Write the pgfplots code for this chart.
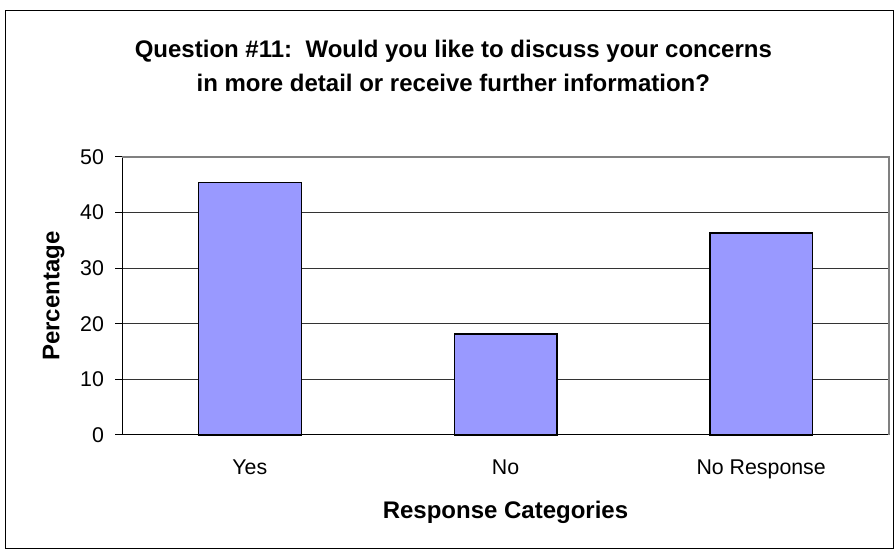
\documentclass[border=0pt]{standalone}
\usepackage{fontspec}
\setmainfont{Liberation Sans}
\usepackage{pgfplots}
\pgfplotsset{compat=1.18}
\definecolor{barfill}{RGB}{153,153,255}
\begin{document}
\begin{tikzpicture}[x=1pt,y=1pt]
\path (0,0) rectangle (672,414);
\draw[black, line width=0.75pt] (3.75,2.25) rectangle (669.75,405.75);
\node[align=center, font=\bfseries\fontsize{18}{25.5}\selectfont] at (340,364.5) {Question \#11:\ \ Would you like to discuss your concerns\\in more detail or receive further information?};
\begin{axis}[
  at={(91.5pt,87.75pt)}, anchor=south west,
  scale only axis, width=575.25pt, height=208.5pt,
  ymin=0, ymax=50, ytick={0,10,...,50},
  xmin=-0.5, xmax=2.5,
  xtick={0,1,2}, xticklabels={Yes,No,No Response},
  x tick style={draw=none},
  extra x ticks={-0.5,0.5,1.5,2.5}, extra x tick labels={},
  extra x tick style={tick style={draw=black!75, line width=0.75pt}, major tick length=5pt},
  axis x line*=bottom, axis y line*=left,
  axis line style={black, line width=0.75pt, -},
  tick align=outside, major tick length=5pt,
  ytick style={black, line width=0.75pt},
  ymajorgrids, grid style={black!80, line width=0.75pt},
  /pgf/number format/assume math mode=true,
  tick label style={font=\fontsize{16}{19}\selectfont},
  xticklabel style={yshift=-10pt},
  yticklabel style={xshift=-5pt},
  xlabel={Response Categories}, ylabel={Percentage},
  label style={font=\bfseries\fontsize{18}{21}\selectfont},
  xlabel style={at={(axis description cs:0.5,-0.28)}, anchor=center},
  ylabel style={at={(axis description cs:-0.089,0.5)}, anchor=center, rotate=0},
  ybar, bar width=77pt,
  clip=false,
]
\addplot[fill=barfill, draw=black, line width=1pt] coordinates {(0,45.45) (1,18.18) (2,36.36)};
\draw[gray, line width=1pt] (rel axis cs:0,1) -- (rel axis cs:1,1) -- (rel axis cs:1,0);
\end{axis}
\end{tikzpicture}
\end{document}
